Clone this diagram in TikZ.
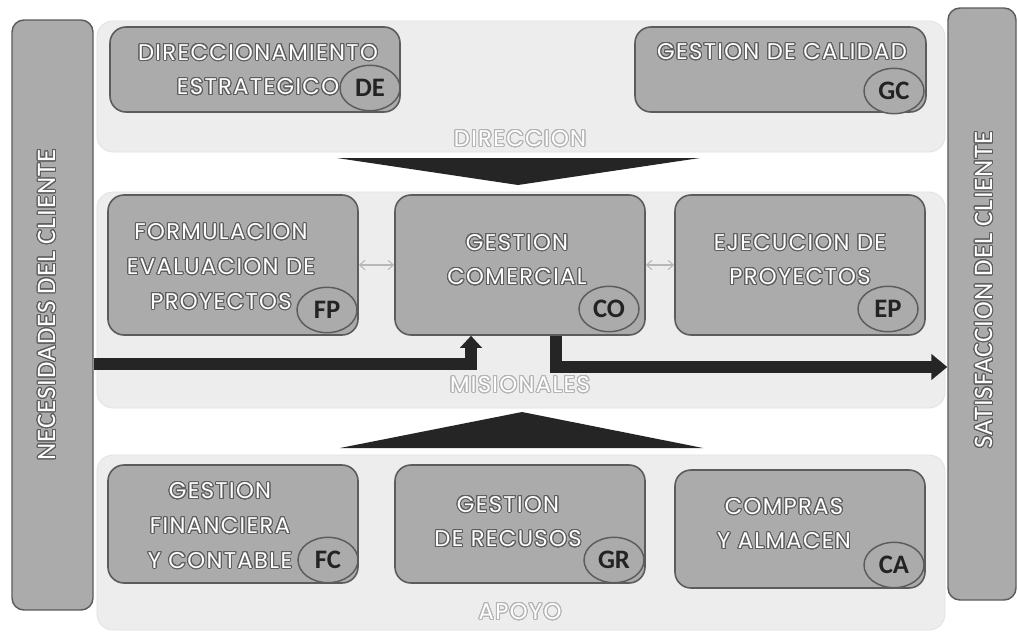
\documentclass[tikz,border=0pt]{standalone}
\usepackage{fontspec}
\usepackage{contour}
\usetikzlibrary{arrows.meta,shapes.geometric}
\newfontfamily\popf{Poppins}[LetterSpace=6]
\newfontfamily\carf{Carlito}[LetterSpace=4]
\newfontfamily\carb{Carlito}
\definecolor{bandc}{HTML}{EDEDED}
\definecolor{bandedge}{HTML}{E2E2E2}
\definecolor{boxc}{HTML}{ABABAB}
\definecolor{edgec}{HTML}{5C5C5C}
\definecolor{olc}{HTML}{5E5E5E}
\definecolor{ollight}{HTML}{B4B4B4}
\definecolor{inkc}{HTML}{232323}
\definecolor{arrowc}{HTML}{252525}
\definecolor{thinc}{HTML}{B8B8B8}
\contourlength{0.75pt}
\contournumber{32}
\newcommand\ow[1]{\contour{olc}{#1}}
\newcommand\owl[1]{\contour{ollight}{#1}}
\begin{document}
\begin{tikzpicture}[x=0.75pt,y=-0.75pt,
  sz/.style 2 args={minimum width={#1*0.75pt}, minimum height={#2*0.75pt}},
  band/.style={draw=bandedge, fill=bandc, rounded corners=12pt, line width=0.6pt, inner sep=0pt},
  sbar/.style={draw=edgec, fill=boxc, rounded corners=9pt, line width=1.1pt, inner sep=0pt},
  proc/.style={draw=edgec, fill=boxc, rounded corners=12pt, line width=1.2pt, inner sep=0pt},
  tag/.style={ellipse, draw=edgec, fill=boxc, line width=1.1pt, minimum width=45pt, minimum height=34pt, inner sep=0pt, text=inkc, font=\carb\bfseries\fontsize{20}{20}\selectfont},
  otext/.style={text=white, align=center, inner sep=0pt, font=\popf\fontsize{17}{26}\selectfont},
  ltext/.style={text=white, align=center, inner sep=0pt, font=\popf\fontsize{17}{20}\selectfont},
  stext/.style={text=white, rotate=90, inner sep=0pt, font=\carf\fontsize{20}{20}\selectfont},
  bigarrow/.style={draw=arrowc, line width=8.5pt, line join=miter, -{Triangle[width=16pt,length=9pt]}},
  bigarrowb/.style={draw=arrowc, line width=9pt, line join=miter, -{Triangle[width=19pt,length=12pt]}},
  dbl/.style={draw=thinc, line width=0.8pt, {Straight Barb[length=4pt,width=7pt]}-{Straight Barb[length=4pt,width=7pt]}}
]
\useasboundingbox (0,0) rectangle (1018,632);
\fill[white] (0,0) rectangle (1018,632);

% bands
\node[band, sz={848}{131}] (dirband) at (521,86.5) {};
\node[band, sz={848}{216}] (misband) at (521,300) {};
\node[band, sz={848}{175}] (apoband) at (521,542.5) {};

% side bars
\node[sbar, sz={81}{590}] (LB) at (52.5,315) {};
\node[sbar, sz={68}{592}] (RB) at (982,304) {};

% process boxes
\node[proc, sz={290}{85}] (DEbox) at (255,69.5) {};
\node[proc, sz={291}{85}] (GCbox) at (780.5,69.5) {};
\node[proc, sz={250}{140}] (FPbox) at (233,265) {};
\node[proc, sz={250}{140}] (CObox) at (520,265) {};
\node[proc, sz={250}{140}] (EPbox) at (800,265) {};
\node[proc, sz={250}{118}] (FCbox) at (233,524) {};
\node[proc, sz={250}{118}] (GRbox) at (520,524) {};
\node[proc, sz={250}{118}] (CAbox) at (800,529) {};

% tags
\node[tag] (DE) at (370,88) {DE};
\node[tag] (GC) at (894,91) {GC};
\node[tag] (FP) at (327,310) {FP};
\node[tag] (CO) at (609,309) {CO};
\node[tag] (EP) at (888,309) {EP};
\node[tag] (FC) at (328,560) {FC};
\node[tag] (GR) at (614,560) {GR};
\node[tag] (CA) at (894,565) {CA};

% big triangles
\fill[arrowc] (337,158) -- (700,158) -- (518,185) -- cycle;
\fill[arrowc] (340,448) -- (703,448) -- (522,412) -- cycle;

% thin double arrows
\draw[dbl] (FPbox.east) -- (CObox.west);
\draw[dbl] (CObox.east) -- (EPbox.west);

% thick arrows
\draw[bigarrow] (LB.east |- 0,364) -| ([xshift=-36.75pt]CObox.south);
\draw[bigarrowb] ([xshift=27pt]CObox.south) |- (RB.west |- 0,367);

% texts
\node[otext] (tDE) at (258,70) {\ow{DIRECCIONAMIENTO}\\\ow{ESTRATEGICO}};
\node[otext] (tGC) at (782,52) {\ow{GESTION DE CALIDAD}};
\node[otext] (tFP) at (221,267) {\ow{FORMULACION}\\\ow{EVALUACION DE}\\\ow{PROYECTOS}};
\node[otext] (tCO) at (517,260) {\ow{GESTION}\\\ow{COMERCIAL}};
\node[otext] (tEP) at (800,260) {\ow{EJECUCION DE}\\\ow{PROYECTOS}};
\node[otext] (tFC) at (220,526) {\ow{GESTION}\\\ow{FINANCIERA}\\\ow{Y CONTABLE}};
\node[otext] (tGR) at (508,522) {\ow{GESTION}\\\ow{DE RECUSOS}};
\node[otext] (tCA) at (784,524) {\ow{COMPRAS}\\\ow{Y ALMACEN}};
\node[ltext] (tDIR) at (520,139) {\owl{DIRECCION}};
\node[ltext] (tMIS) at (520,385) {\owl{MISIONALES}};
\node[ltext] (tAPO) at (520,612) {\owl{APOYO}};
\node[stext] (tNEC) at (47,305) {\ow{NECESIDADES DEL CLIENTE}};
\node[stext] (tSAT) at (984,290) {\ow{SATISFACCION DEL CLIENTE}};
\end{tikzpicture}
\end{document}
